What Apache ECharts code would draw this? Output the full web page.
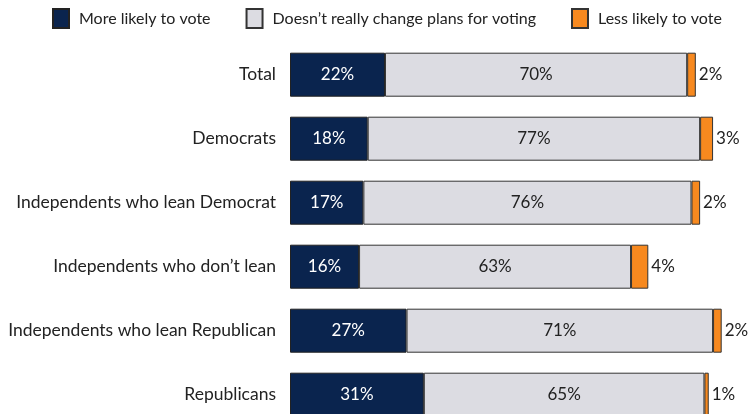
<!DOCTYPE html>
<html><head><meta charset="utf-8">
<script src="https://cdn.jsdelivr.net/npm/echarts@6/dist/echarts.min.js"></script>
<style>html,body{margin:0;padding:0;background:#fff}#c{width:750px;height:414px}</style>
</head><body><div id="c"></div>
<script>
const categories = ["Total","Democrats","Independents who lean Democrat","Independents who don\u2019t lean","Independents who lean Republican","Republicans"];
const moreLikely = [22,18,17,16,27,31];
const noChange = [70,77,76,63,71,65];
const lessLikely = [2,3,2,4,2,1];
const seriesNames = ["More likely to vote","Doesn\u2019t really change plans for voting","Less likely to vote"];

const FONT = "Lato";
const chart = echarts.init(document.getElementById('c'), null, {renderer:'canvas'});
const pct = p => p.value + '%';
chart.setOption({
  animation:false,
  textStyle:{fontFamily:FONT},
  legend:{
    top:8, left:52, padding:0, icon:'rect', itemWidth:16, itemHeight:19, itemGap:35,
    textStyle:{fontFamily:FONT,fontSize:16,color:'#222',padding:[0,0,0,5]},
    data:seriesNames
  },
  grid:{left:290, top:42.7, right:28.3, bottom:-12.7, containLabel:false, outerBoundsMode:'none'},
  xAxis:{type:'value',min:0,max:100,show:false},
  yAxis:{type:'category',data:categories,inverse:true,
    axisLine:{show:false},axisTick:{show:false},
    axisLabel:{fontFamily:FONT,fontSize:17.5,color:'#222',margin:14}},
  series:[
    {name:seriesNames[0],type:'bar',stack:'a',barWidth:44,data:moreLikely,
     itemStyle:{color:'#0a244e',borderColor:'#222',borderWidth:1},
     label:{show:true,position:'inside',formatter:pct,color:'#fff',fontFamily:FONT,fontSize:17}},
    {name:seriesNames[1],type:'bar',stack:'a',barWidth:44,data:noChange,
     itemStyle:{color:'#dcdce2',borderColor:'#333',borderWidth:1},
     label:{show:true,position:'inside',formatter:pct,color:'#222',fontFamily:FONT,fontSize:17}},
    {name:seriesNames[2],type:'bar',stack:'a',barWidth:44,data:lessLikely,
     itemStyle:{color:'#f7891f',borderColor:'#333',borderWidth:1},
     label:{show:true,position:'right',distance:3,formatter:pct,color:'#222',fontFamily:FONT,fontSize:17}}
  ]
});
</script></body></html>
